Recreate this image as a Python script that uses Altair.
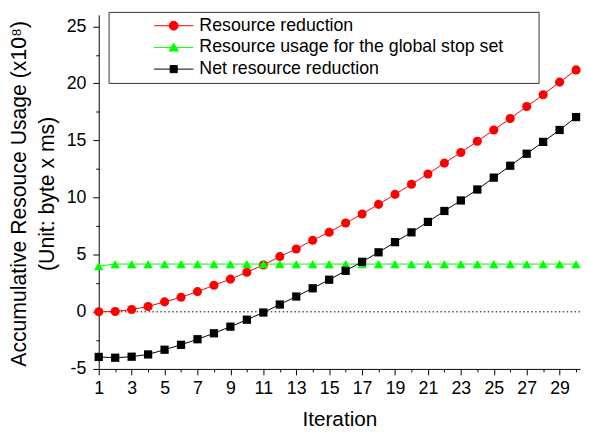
import altair as alt
import pandas as pd

iterations = [1, 2, 3, 4, 5, 6, 7, 8, 9, 10, 11, 12, 13, 14, 15,
              16, 17, 18, 19, 20, 21, 22, 23, 24, 25, 26, 27, 28, 29, 30]
resource_reduction = [0.0, 0.03, 0.2, 0.47, 0.87, 1.27, 1.77, 2.32, 2.86, 3.47,
                      4.1, 4.83, 5.5, 6.27, 6.97, 7.77, 8.57, 9.41, 10.28, 11.17,
                      12.07, 13.02, 13.95, 14.93, 15.92, 16.93, 17.97, 19.01, 20.11, 21.18]
global_stop_usage = [4.0, 4.18, 4.18, 4.18, 4.18, 4.18, 4.18, 4.18, 4.18, 4.18,
                     4.18, 4.18, 4.18, 4.18, 4.18, 4.18, 4.18, 4.18, 4.18, 4.18,
                     4.18, 4.18, 4.18, 4.18, 4.18, 4.18, 4.18, 4.18, 4.18, 4.18]
net_reduction = [-3.95, -4.02, -3.93, -3.73, -3.32, -2.89, -2.4, -1.88, -1.3, -0.69,
                 -0.06, 0.64, 1.34, 2.06, 2.81, 3.59, 4.38, 5.21, 6.1, 6.96,
                 7.87, 8.83, 9.75, 10.71, 11.75, 12.79, 13.84, 14.88, 15.92, 17.05]

series_names = ["Resource reduction",
                "Resource usage for the global stop set",
                "Net resource reduction"]
series_colors = ["#FF0000", "#00FF00", "#000000"]
marker_shapes = ["circle", "triangle-up", "square"]
marker_sizes = [85, 90, 70]
legend_paths = [
    "M-4,0L4,0M-0.9,0C-0.9,-0.5,-0.5,-0.9,0,-0.9C0.5,-0.9,0.9,-0.5,0.9,0"
    "C0.9,0.5,0.5,0.9,0,0.9C-0.5,0.9,-0.9,0.5,-0.9,0Z",
    "M-4,0L4,0M0,-0.85L0.95,0.75L-0.95,0.75Z",
    "M-4,0L4,0M-0.72,-0.72L0.72,-0.72L0.72,0.72L-0.72,0.72Z",
]
x_ticks = list(range(1, 31))
y_ticks = [-5, -2.5, 0, 2.5, 5, 7.5, 10, 12.5, 15, 17.5, 20, 22.5, 25]
zero_line = [0]

rows = []
for name, vals in zip(series_names, [resource_reduction, global_stop_usage, net_reduction]):
    for it, v in zip(iterations, vals):
        rows.append({"iteration": it, "value": v, "series": name})
df = pd.DataFrame(rows)

FONT = "Liberation Sans"

x_axis = alt.Axis(
    values=x_ticks,
    labelExpr="datum.value % 2 == 1 ? toString(datum.value) : ''",
    tickSize={"condition": {"test": "datum.value % 2 == 0", "value": 3}, "value": 6},
    labelFlush=False,
    labelOverlap=False,
    labelPadding=5,
    title="Iteration",
    titlePadding=11,
)
y_axis = alt.Axis(
    values=y_ticks,
    labelExpr="datum.value % 5 == 0 ? toString(datum.value) : ''",
    tickSize={"condition": {"test": "datum.value % 5 != 0", "value": 3}, "value": 6},
    labelFlush=False,
    labelOverlap=False,
    labelPadding=7,
    title=["Accumulative Resouce Usage (x10\u2078)", "(Unit: byte x ms)"],
    titlePadding=8,
    titleLineHeight=28,
    titleFontSize=21.5,
    titleY=181,
)
x_scale = alt.Scale(domain=[1, 30.24], nice=False, zero=False)
y_scale = alt.Scale(domain=[-5, 26], nice=False, zero=False)


def xe():
    return alt.X("iteration:Q", scale=x_scale, axis=x_axis)


def ye(field="value:Q"):
    return alt.Y(field, scale=y_scale, axis=y_axis)


base = alt.Chart(df)

zero = alt.Chart(pd.DataFrame({"y": zero_line})).mark_rule(
    color="black", strokeWidth=1, strokeDash=[1.5, 2.5]
).encode(y=ye("y:Q"))

series_layers = []
for name, color, shape, size in zip(series_names, series_colors, marker_shapes, marker_sizes):
    sub = base.transform_filter(alt.datum.series == name)
    series_layers.append(
        sub.mark_line(strokeWidth=1, color=color).encode(x=xe(), y=ye())
    )
    series_layers.append(
        sub.mark_point(filled=True, shape=shape, size=size, color=color, opacity=1)
        .encode(x=xe(), y=ye())
    )

legend = alt.Legend(
    title=None,
    orient="none",
    legendX=10,
    legendY=-3,
    direction="vertical",
    padding=5,
    rowPadding=4,
    strokeColor="#333333",
    fillColor="white",
    symbolSize=100,
    symbolStrokeWidth=1,
    symbolOffset=52,
    symbolOpacity=1,
    labelOffset=17,
    labelFont=FONT,
    labelFontSize=18,
    labelColor="black",
    labelLimit=800,
    labelExpr="datum.label + '\u00a0\u00a0\u00a0\u00a0\u00a0\u00a0\u200b'",
)

legend_layer = base.transform_filter("false").mark_point(filled=True, opacity=0).encode(
    x=xe(),
    y=ye(),
    shape=alt.Shape("series:N", scale=alt.Scale(domain=series_names, range=legend_paths), legend=legend),
    fill=alt.Fill("series:N", scale=alt.Scale(domain=series_names, range=series_colors), legend=legend),
    stroke=alt.Stroke("series:N", scale=alt.Scale(domain=series_names, range=series_colors), legend=legend),
)

chart = alt.layer(zero, *series_layers, legend_layer).properties(
    width=488, height=359, padding=0, background="white"
).configure_view(stroke=None).configure_axis(
    domainColor="black",
    domainWidth=1,
    tickColor="black",
    tickWidth=1,
    grid=False,
    labelOverlap=False,
    labelFont=FONT,
    labelFontSize=18,
    labelColor="black",
    titleFont=FONT,
    titleFontSize=21,
    titleFontWeight="normal",
    titleColor="black",
)

chart.save("out.html", embed_options={"renderer": "svg", "actions": False})
